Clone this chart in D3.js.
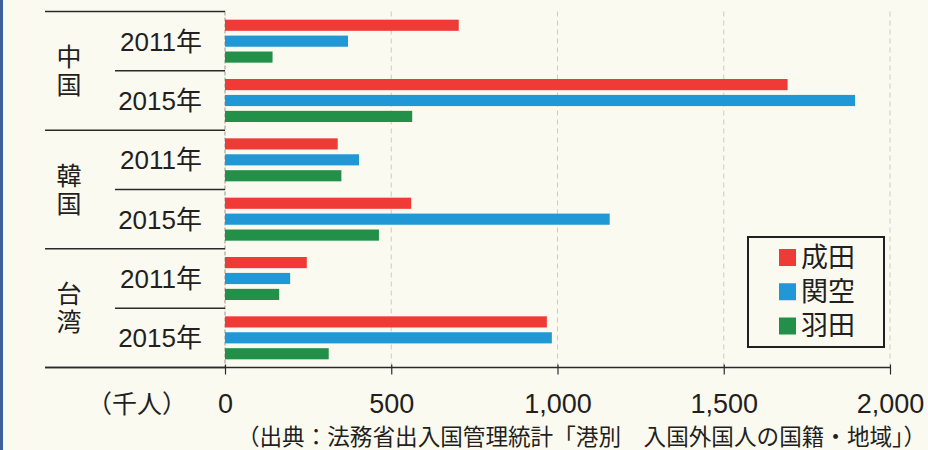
<!DOCTYPE html>
<html>
<head>
<meta charset="utf-8">
<script src="https://cdn.jsdelivr.net/npm/d3@7"></script>
<style>
  html, body { margin: 0; padding: 0; background: #fbfaf1; }
  svg { display: block; }
  text { font-family: "Liberation Sans", "Noto Sans CJK JP", sans-serif; fill: #231f20; }
</style>
</head>
<body>
<svg id="chart" width="928" height="450"></svg>
<script>
// 訪日外国人の入国空港別人数（千人）
const regions = ["中国", "韓国", "台湾"];
const years = ["2011年", "2015年"];
const airports = ["成田", "関空", "羽田"];
// rows: 中国2011, 中国2015, 韓国2011, 韓国2015, 台湾2011, 台湾2015
const narita = [703, 1692, 339, 560, 246, 968];
const kansai = [370, 1895, 403, 1157, 196, 983];
const haneda = [143, 563, 350, 463, 163, 312];
const xTicks = [0, 500, 1000, 1500, 2000];
const unitLabel = "（千人）";
const sourceLabel = "（出典：法務省出入国管理統計「港別　入国外国人の国籍・地域」）";

const colors = { "成田": "#ef3a36", "関空": "#1f98d5", "羽田": "#23904a" };
const seriesValues = { "成田": narita, "関空": kansai, "羽田": haneda };

const rows = [];
regions.forEach((r, i) => years.forEach((y, j) => rows.push({ region: r, year: y, idx: i * 2 + j })));

const svg = d3.select("#chart");

// page edge rule on the left
svg.append("rect").attr("x", 0).attr("y", 0).attr("width", 3).attr("height", 450).attr("fill", "#3d5f9c");

const x = d3.scaleLinear().domain([0, 2000]).range([225, 890]);
const plotTop = 11.5, plotBottom = 367.5;
const yRow = d3.scaleBand().domain(rows.map(d => d.idx)).range([plotTop, plotBottom]).padding(0);

// vertical grid lines
svg.append("g").selectAll("line").data(xTicks.slice(1)).join("line")
  .attr("x1", d => x(d)).attr("x2", d => x(d))
  .attr("y1", plotTop).attr("y2", plotBottom)
  .attr("stroke", "#cfcabb").attr("stroke-width", 1).attr("stroke-dasharray", "5,4");

// left axis line
svg.append("line").attr("x1", x(0)).attr("x2", x(0)).attr("y1", plotTop).attr("y2", plotBottom)
  .attr("stroke", "#9a968c").attr("stroke-width", 1).attr("stroke-dasharray", "4,2");

// bars
const inner = d3.scaleBand().domain(airports).range([-21.5, 21.5]).paddingInner(0.3).paddingOuter(0);
const barData = [];
rows.forEach(r => airports.forEach(a => barData.push({ row: r, airport: a, value: seriesValues[a][r.idx] })));
svg.append("g").selectAll("rect").data(barData).join("rect")
  .attr("x", x(0))
  .attr("y", d => yRow(d.row.idx) + yRow.bandwidth() / 2 + inner(d.airport))
  .attr("width", d => x(d.value) - x(0))
  .attr("height", inner.bandwidth())
  .attr("fill", d => colors[d.airport]);

// row separators in the label area
const sep = svg.append("g").attr("stroke", "#2a2a2a").attr("stroke-width", 1.5);
sep.append("line").attr("x1", 45).attr("x2", x(0)).attr("y1", plotTop).attr("y2", plotTop);
rows.forEach(r => {
  const yb = yRow(r.idx) + yRow.bandwidth();
  const isGroupEnd = r.idx % 2 === 1;
  sep.append("line")
    .attr("x1", isGroupEnd ? 45 : 115).attr("x2", x(0))
    .attr("y1", yb).attr("y2", yb);
});

// year labels
svg.append("g").selectAll("text").data(rows).join("text")
  .attr("x", 202)
  .attr("y", d => yRow(d.idx) + yRow.bandwidth() / 2)
  .attr("dy", "0.36em")
  .attr("text-anchor", "end")
  .attr("font-size", 26)
  .text(d => d.year);

// region labels, written vertically
regions.forEach((r, i) => {
  const yc = (yRow(i * 2) + yRow(i * 2 + 1) + yRow.bandwidth()) / 2;
  svg.append("g").selectAll("text").data(Array.from(r)).join("text")
    .attr("x", 69)
    .attr("y", (c, k) => yc + (k - 0.5) * 28)
    .attr("dy", "0.36em")
    .attr("text-anchor", "middle")
    .attr("font-size", 25)
    .text(c => c);
});

// x axis
const axis = d3.axisBottom(x).tickValues(xTicks).tickFormat(d3.format(",")).tickSize(7).tickPadding(19);
const gAxis = svg.append("g").attr("transform", `translate(0,${plotBottom})`).call(axis);
gAxis.select(".domain").remove();
gAxis.selectAll(".tick line").attr("stroke", "#2a2a2a").attr("y1", -3).attr("stroke-width", 1.2);
gAxis.selectAll(".tick text").attr("font-size", 27).attr("fill", "#231f20")
  .attr("font-family", "\"Liberation Sans\", \"Noto Sans CJK JP\", sans-serif");
svg.append("line").attr("x1", 45).attr("x2", x(2000)).attr("y1", plotBottom).attr("y2", plotBottom)
  .attr("stroke", "#2a2a2a").attr("stroke-width", 1.5);

// unit label
svg.append("text").attr("x", 137).attr("y", 404).attr("dy", "0.36em")
  .attr("text-anchor", "middle").attr("font-size", 25).text(unitLabel);

// source note
svg.append("text").attr("x", 926).attr("y", 437).attr("dy", "0.36em")
  .attr("text-anchor", "end").attr("font-size", 22.6).text(sourceLabel);

// legend
const legend = svg.append("g");
legend.append("rect").attr("x", 748).attr("y", 237).attr("width", 136).attr("height", 110)
  .attr("fill", "#fbfaf1").attr("stroke", "#231f20").attr("stroke-width", 2);
const legY = d3.scalePoint().domain(airports).range([257, 325.5]);
legend.selectAll("rect.key").data(airports).join("rect").attr("class", "key")
  .attr("x", 779).attr("y", d => legY(d) - 8).attr("width", 17).attr("height", 17)
  .attr("fill", d => colors[d]);
legend.selectAll("text").data(airports).join("text")
  .attr("x", 801).attr("y", d => legY(d)).attr("dy", "0.36em")
  .attr("font-size", 27).text(d => d);
</script>
</body>
</html>
